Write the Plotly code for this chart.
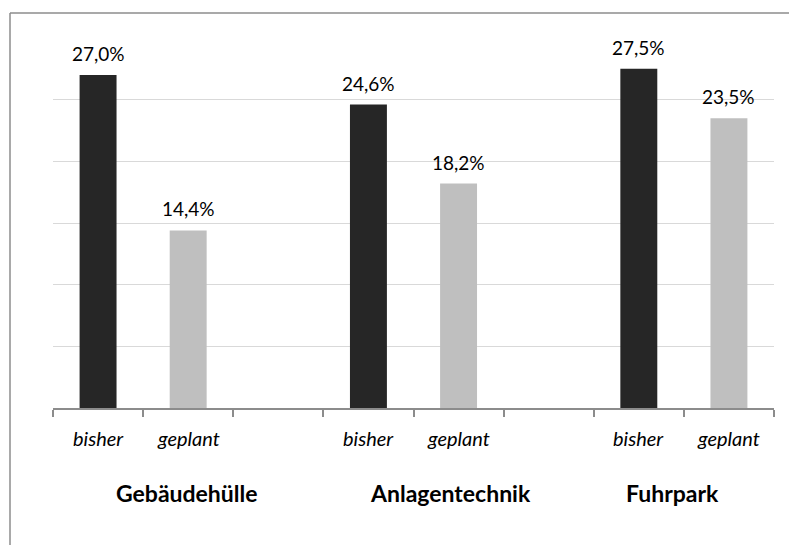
import plotly.graph_objects as go

slot_labels = ["bisher", "geplant", "", "bisher", "geplant", "", "bisher", "geplant"]
groups = ["Gebäudehülle", "Anlagentechnik", "Fuhrpark"]
group_pos = [0.99, 3.91, 6.37]
bisher_pos = [0, 3, 6]
geplant_pos = [1, 4, 7]
bisher_vals = [27.0, 24.6, 27.5]
geplant_vals = [14.4, 18.2, 23.5]

def fmt(v):
    return f"{v:.1f}".replace(".", ",") + "%"

FONT = "Lato"
fig = go.Figure()
annotations = []
for pos, vals, col in [(bisher_pos, bisher_vals, "#262626"), (geplant_pos, geplant_vals, "#bfbfbf")]:
    fig.add_trace(go.Bar(x=pos, y=vals, width=0.41, marker_color=col, marker_line_width=0))
    for p, v in zip(pos, vals):
        annotations.append(dict(x=p, y=v, xref="x", yref="y", text=fmt(v), showarrow=False,
                                yanchor="bottom", yshift=8,
                                font=dict(family=FONT, size=19, color="#000000")))

for i, lab in enumerate(slot_labels):
    if lab:
        annotations.append(dict(x=i, y=-0.08, xref="x", yref="paper", text=f"<i>{lab}</i>",
                                showarrow=False, yanchor="middle",
                                font=dict(family=FONT, size=20, color="#000000")))
for g, p in zip(groups, group_pos):
    annotations.append(dict(x=p, y=-0.23, xref="x", yref="paper", text=f"<b>{g}</b>",
                            showarrow=False, yanchor="middle",
                            font=dict(family=FONT, size=23, color="#000000")))

W, H = 789, 545
L, R, T, B = 53, 15, 38, 137
pw, ph = W - L - R, H - T - B
bx0 = (10 - L) / pw
bx1 = (789 - L) / pw
by_top = 1 + (T - 13) / ph
by_bot = -(B) / ph

fig.update_layout(
    width=W, height=H,
    margin=dict(l=L, r=R, t=T, b=B),
    paper_bgcolor="white", plot_bgcolor="white",
    showlegend=False,
    barmode="overlay",
    annotations=annotations,
    xaxis=dict(range=[-0.5, 7.5], tickmode="array",
               tickvals=[i - 0.5 for i in range(9)], ticktext=[""] * 9,
               ticks="outside", ticklen=7, tickcolor="#8c8c8c", tickwidth=1.5,
               showline=True, linecolor="#8c8c8c", linewidth=1.5,
               showgrid=False, zeroline=False, fixedrange=True),
    yaxis=dict(range=[0, 30], dtick=5, showticklabels=False, ticks="",
               showgrid=True, gridcolor="#d9d9d9", gridwidth=1.2,
               zeroline=False, showline=False, fixedrange=True),
    shapes=[
        dict(type="line", xref="paper", yref="paper", x0=bx0, x1=bx1, y0=by_top, y1=by_top,
             line=dict(color="#8c8c8c", width=1.5)),
        dict(type="line", xref="paper", yref="paper", x0=bx0, x1=bx0, y0=by_bot, y1=by_top,
             line=dict(color="#8c8c8c", width=1.5)),
    ],
)

fig.write_html("out.html", config={"displayModeBar": False},
               post_script="document.body.style.margin='0';document.body.style.overflow='hidden';")
